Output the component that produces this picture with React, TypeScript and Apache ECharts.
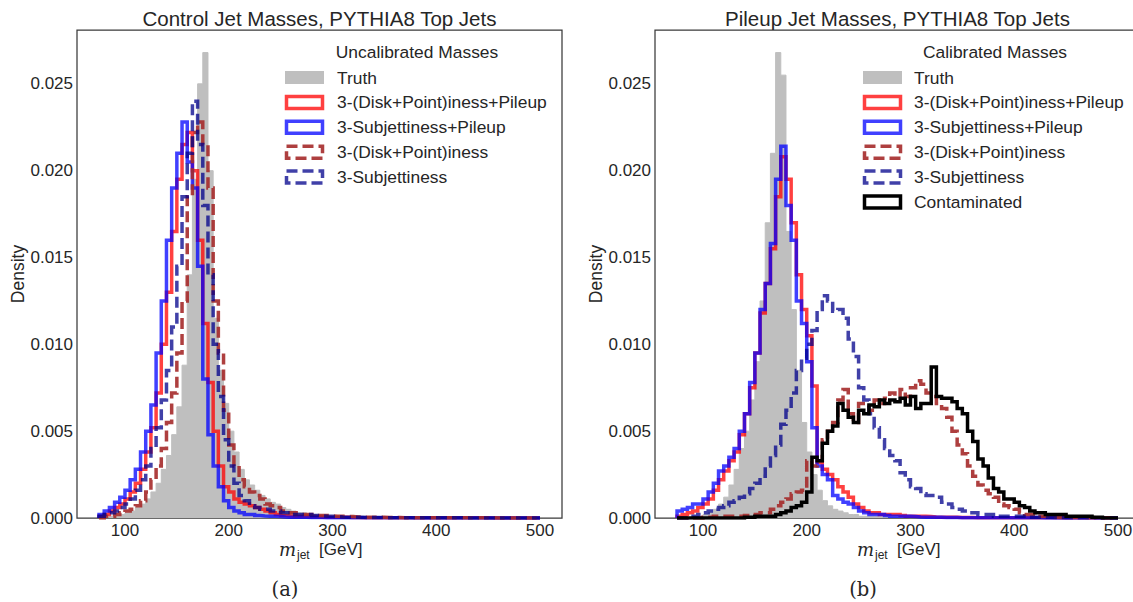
import React, { useEffect, useRef } from "react";
import * as echarts from "echarts";

// Histogram bins: 5 GeV wide, starting at 75 GeV (85 bins up to 500 GeV)
const BIN_START = 75;
const BIN_WIDTH = 5;

const X_TICKS = [100, 200, 300, 400, 500];
const Y_TICKS = [0, 0.005, 0.01, 0.015, 0.02, 0.025];

// ---------- Left panel: uncalibrated masses ----------
const LEFT_TRUTH = [
  0, 0.00005, 0.0001, 0.0001, 0.0002, 0.0003, 0.0004, 0.0006, 0.0008, 0.0011,
  0.0015, 0.002, 0.0028, 0.0036, 0.0048, 0.0064, 0.0088, 0.014, 0.0195, 0.025,
  0.0268, 0.02, 0.0115, 0.0085, 0.0066, 0.005, 0.0038, 0.0028, 0.0022, 0.0019,
  0.0016, 0.0013, 0.0011, 0.0009, 0.0008, 0.0006, 0.0005, 0.0004, 0.0003, 0.0003,
  0.0002, 0.0002, 0.00015, 0.00015, 0.0001, 0.0001, 0.0001, 0.0001, 0.00008, 0.00006,
  0.00005, 0.00005, 0.00004, 0.00004, 0.00003, 0.00003, 0.00003, 0.00002, 0.00002, 0.00002,
  0.00002, 0.00001, 0.00001, 0.00001, 0.00001, 0.00001, 0, 0, 0, 0,
  0, 0, 0, 0, 0, 0, 0, 0, 0, 0,
  0, 0, 0, 0, 0,
];
const LEFT_DISK_PILEUP = [
  0.0001, 0.0002, 0.0004, 0.0006, 0.0008, 0.0011, 0.0015, 0.002, 0.0028, 0.0038,
  0.0052, 0.0072, 0.01, 0.013, 0.0165, 0.0195, 0.0215, 0.0222, 0.02, 0.016,
  0.0112, 0.0078, 0.005, 0.003, 0.0018, 0.0015, 0.0011, 0.0009, 0.0008, 0.0007,
  0.0006, 0.0005, 0.0004, 0.0003, 0.0002, 0.00015, 0.00012, 0.0001, 0.0001, 0.0001,
  0.00008, 0.00008, 0.00006, 0.00006, 0.00005, 0.00005, 0.00004, 0.00004, 0.00003, 0.00003,
  0.00002, 0.00002, 0.00002, 0.00002, 0.00002, 0.00002, 0.00002, 0.00002, 0.00002, 0.00002,
  0.00002, 0.00002, 0.00001, 0.00001, 0.00001, 0.00001, 0.00001, 0.00001, 0.00001, 0.00001,
  0.00001, 0.00001, 0.00001, 0.00001, 0.00001, 0, 0, 0, 0, 0,
  0, 0, 0, 0, 0,
];
const LEFT_SUBJ_PILEUP = [
  0.0002, 0.0004, 0.0006, 0.0009, 0.0012, 0.0016, 0.0022, 0.0028, 0.0038, 0.005,
  0.0065, 0.0095, 0.0125, 0.016, 0.019, 0.021, 0.0228, 0.0205, 0.019, 0.0145,
  0.008, 0.0048, 0.003, 0.0018, 0.001, 0.0006, 0.0004, 0.0003, 0.0002, 0.0002,
  0.00015, 0.00012, 0.0001, 0.0001, 0.00008, 0.00006, 0.00005, 0.00005, 0.00004, 0.00004,
  0.00003, 0.00003, 0.00003, 0.00002, 0.00002, 0.00002, 0.00002, 0.00002, 0.00002, 0.00002,
  0.00001, 0.00001, 0.00001, 0.00001, 0.00001, 0.00001, 0.00001, 0.00001, 0.00001, 0.00001,
  0, 0, 0, 0, 0, 0, 0, 0, 0, 0,
  0, 0, 0, 0, 0, 0, 0, 0, 0, 0,
  0, 0, 0, 0, 0,
];
const LEFT_DISK = [
  0, 0.0001, 0.0001, 0.0002, 0.0003, 0.0004, 0.0005, 0.0007, 0.001, 0.0015,
  0.0022, 0.003, 0.004, 0.0055, 0.0072, 0.0095, 0.0125, 0.0185, 0.0222, 0.0228,
  0.0215, 0.019, 0.0125, 0.0095, 0.0062, 0.0042, 0.003, 0.0022, 0.0018, 0.0015,
  0.0013, 0.0011, 0.0008, 0.0007, 0.0006, 0.0004, 0.0003, 0.0003, 0.0002, 0.0002,
  0.0002, 0.0002, 0.00015, 0.00015, 0.00012, 0.0001, 0.0001, 0.0001, 0.00008, 0.00006,
  0.00005, 0.00005, 0.00004, 0.00004, 0.00004, 0.00003, 0.00003, 0.00003, 0.00002, 0.00002,
  0.00002, 0.00002, 0.00002, 0.00002, 0.00001, 0.00001, 0.00001, 0.00001, 0.00001, 0.00001,
  0.00001, 0.00001, 0.00001, 0.00001, 0.00001, 0.00001, 0, 0, 0, 0,
  0, 0, 0, 0, 0,
];
const LEFT_SUBJ = [
  0.0001, 0.0002, 0.0003, 0.0004, 0.0006, 0.0008, 0.0011, 0.0016, 0.0022, 0.003,
  0.004, 0.0052, 0.0068, 0.0085, 0.011, 0.0145, 0.0185, 0.021, 0.024, 0.0215,
  0.018, 0.014, 0.01, 0.007, 0.0045, 0.003, 0.002, 0.0013, 0.001, 0.0007,
  0.0006, 0.0005, 0.0005, 0.0004, 0.0004, 0.0003, 0.0003, 0.0002, 0.0002, 0.0002,
  0.0002, 0.00015, 0.00012, 0.0001, 0.0001, 0.00008, 0.00006, 0.00005, 0.00005, 0.00004,
  0.00004, 0.00003, 0.00003, 0.00003, 0.00002, 0.00002, 0.00002, 0.00002, 0.00002, 0.00002,
  0.00001, 0.00001, 0.00001, 0.00001, 0.00001, 0.00001, 0.00001, 0.00001, 0.00001, 0.00001,
  0, 0, 0, 0, 0, 0, 0, 0, 0, 0,
  0, 0, 0, 0, 0,
];

// ---------- Right panel: calibrated masses ----------
const RIGHT_TRUTH = [
  0, 0, 0.00005, 0.0001, 0.0001, 0.0002, 0.0003, 0.0005, 0.0008, 0.0012,
  0.0019, 0.0028, 0.004, 0.005, 0.0068, 0.009, 0.0125, 0.017, 0.021, 0.0268,
  0.0255, 0.0165, 0.012, 0.0085, 0.0055, 0.0038, 0.0025, 0.0016, 0.001, 0.0007,
  0.0005, 0.0004, 0.0003, 0.0002, 0.0002, 0.0001, 0.0001, 0.0001, 0.00008, 0.00006,
  0.00005, 0.00004, 0.00003, 0.00003, 0.00002, 0.00002, 0.00002, 0.00001, 0.00001, 0.00001,
  0, 0, 0, 0, 0, 0, 0, 0, 0, 0,
  0, 0, 0, 0, 0, 0, 0, 0, 0, 0,
  0, 0, 0, 0, 0, 0, 0, 0, 0, 0,
  0, 0, 0, 0, 0,
];
const RIGHT_DISK_PILEUP = [
  0.0001, 0.0002, 0.0003, 0.0004, 0.0006, 0.0008, 0.0011, 0.0016, 0.0022, 0.0027,
  0.0033, 0.0038, 0.0048, 0.006, 0.0075, 0.0095, 0.0118, 0.0135, 0.0155, 0.0185,
  0.0208, 0.0195, 0.017, 0.014, 0.012, 0.0105, 0.0076, 0.0032, 0.0028, 0.0025,
  0.0022, 0.0018, 0.0015, 0.0012, 0.0008, 0.0006, 0.0004, 0.0003, 0.0003, 0.0002,
  0.0002, 0.0002, 0.0002, 0.00015, 0.0001, 0.0001, 0.0001, 0.0001, 0.00008, 0.00006,
  0.00005, 0.00005, 0.00004, 0.00004, 0.00003, 0.00003, 0.00003, 0.00002, 0.00002, 0.00002,
  0.00002, 0.00002, 0.00001, 0.00001, 0.00001, 0.00001, 0.00001, 0.00001, 0.00001, 0.00001,
  0.00001, 0.00001, 0.00001, 0, 0, 0, 0, 0, 0, 0,
  0, 0, 0, 0, 0,
];
const RIGHT_SUBJ_PILEUP = [
  0.0004, 0.0005, 0.0006, 0.0008, 0.0008, 0.0011, 0.0015, 0.002, 0.0027, 0.003,
  0.0035, 0.004, 0.005, 0.006, 0.0078, 0.0095, 0.012, 0.0135, 0.0158, 0.0195,
  0.0214, 0.018, 0.016, 0.0125, 0.0112, 0.009, 0.0052, 0.003, 0.0025, 0.0022,
  0.0013, 0.0011, 0.0009, 0.0008, 0.0006, 0.0004, 0.0003, 0.0002, 0.0002, 0.0002,
  0.00015, 0.0001, 0.0001, 0.0001, 0.0001, 0.00008, 0.00006, 0.00005, 0.00005, 0.00004,
  0.00004, 0.00003, 0.00003, 0.00003, 0.00002, 0.00002, 0.00002, 0.00002, 0.00002, 0.00002,
  0.00001, 0.00001, 0.00001, 0.00001, 0.00001, 0.00001, 0.00001, 0.00001, 0.00001, 0.00001,
  0, 0, 0, 0, 0, 0, 0, 0, 0, 0,
  0, 0, 0, 0, 0,
];
const RIGHT_DISK = [
  0, 0, 0, 0, 0, 0.00005, 0.00005, 0.0001, 0.0001, 0.0001,
  0.0001, 0.0001, 0.0001, 0.00015, 0.0002, 0.0002, 0.0003, 0.0003, 0.0005, 0.0007,
  0.0009, 0.0011, 0.0014, 0.0015, 0.0016, 0.0033, 0.003, 0.0033, 0.0045, 0.005,
  0.0055, 0.0068, 0.0074, 0.006, 0.0055, 0.0066, 0.0066, 0.0062, 0.0068, 0.0066,
  0.0069, 0.0072, 0.007, 0.0074, 0.007, 0.0075, 0.0079, 0.0077, 0.0072, 0.007,
  0.0066, 0.0063, 0.0058, 0.005, 0.0042, 0.0037, 0.003, 0.0024, 0.0019, 0.0016,
  0.0014, 0.0012, 0.0008, 0.0007, 0.0006, 0.0005, 0.0003, 0.0002, 0.0002, 0.0001,
  0.0001, 0.0001, 0.0001, 0.00005, 0.00005, 0.00005, 0.00005, 0.00003, 0.00003, 0.00003,
  0.00002, 0.00002, 0.00002, 0.00001, 0.00001,
];
const RIGHT_SUBJ = [
  0, 0, 0.0001, 0.0001, 0.0002, 0.0003, 0.0004, 0.0005, 0.0006, 0.0007,
  0.0009, 0.001, 0.0012, 0.0014, 0.0017, 0.002, 0.0024, 0.003, 0.0036, 0.0042,
  0.0054, 0.0062, 0.0072, 0.0085, 0.0092, 0.01, 0.0108, 0.012, 0.0128, 0.0125,
  0.0119, 0.012, 0.0115, 0.0103, 0.0093, 0.0075, 0.0068, 0.006, 0.0052, 0.0045,
  0.004, 0.0036, 0.0033, 0.0026, 0.0022, 0.0018, 0.0017, 0.0014, 0.0013, 0.0013,
  0.0012, 0.0009, 0.0008, 0.0006, 0.0005, 0.0004, 0.0003, 0.0003, 0.0002, 0.0002,
  0.0002, 0.0001, 0.0001, 0.0001, 0.0001, 0.0001, 0.0001, 0.0001, 0.00005, 0.00005,
  0.00004, 0.00004, 0.00003, 0.00003, 0.00002, 0.00002, 0.00002, 0.00001, 0.00001, 0.00001,
  0.00001, 0.00001, 0, 0, 0,
];
const RIGHT_CONTAMINATED = [
  0, 0, 0, 0, 0, 0, 0, 0, 0, 0,
  0, 0, 0, 0.00005, 0.00005, 0.0001, 0.0001, 0.0001, 0.0001, 0.0002,
  0.0003, 0.0004, 0.0006, 0.0007, 0.0009, 0.0015, 0.0035, 0.0033, 0.0043, 0.005,
  0.0053, 0.0066, 0.0062, 0.0058, 0.0055, 0.0062, 0.006, 0.0065, 0.0064, 0.0068,
  0.0066, 0.0068, 0.0067, 0.0069, 0.0065, 0.007, 0.0063, 0.0066, 0.0066, 0.0087,
  0.007, 0.0069, 0.0069, 0.0067, 0.0063, 0.006, 0.005, 0.0044, 0.0034, 0.003,
  0.0023, 0.0017, 0.0015, 0.0011, 0.0011, 0.0009, 0.0007, 0.0006, 0.0004, 0.0003,
  0.0003, 0.0002, 0.0002, 0.0002, 0.0002, 0.0001, 0.0001, 0.0001, 0.0001, 0.0001,
  0.00005, 0.00005, 0, 0, 0,
];

const LEFT_LABELS = [
  "Truth",
  "3-(Disk+Point)iness+Pileup",
  "3-Subjettiness+Pileup",
  "3-(Disk+Point)iness",
  "3-Subjettiness",
];
const RIGHT_LABELS = [...LEFT_LABELS, "Contaminated"];

// ---------- styles ----------
const FONT = '"Liberation Sans", Arial, sans-serif';
const TXT = "#262626";
const TRUTH_COLOR = "#bfbfbf";
const STYLES = [
  { color: TRUTH_COLOR, fill: true, dash: null as number[] | null },
  { color: "rgba(255,0,0,0.75)", fill: false, dash: null },
  { color: "rgba(0,0,255,0.75)", fill: false, dash: null },
  { color: "rgba(165,42,42,0.9)", fill: false, dash: [11, 5] },
  { color: "rgba(0,0,139,0.75)", fill: false, dash: [11, 5] },
  { color: "#000000", fill: false, dash: null },
];
const LINE_W = 3.5;

const X_MIN = 53.75;
const X_MAX = 521.25;
const Y_MAX = 0.0281;

const GRID_TOP = 30;
const GRID_H = 488;
const GRID_W = 485;
const LEFT_X = 77;
const RIGHT_X = 655;

function stepData(vals: number[]) {
  const pts: number[][] = [[BIN_START, 0]];
  vals.forEach((v, i) => pts.push([BIN_START + i * BIN_WIDTH, v]));
  pts.push([BIN_START + vals.length * BIN_WIDTH, 0]);
  return pts;
}

function histSeries(vals: number[], styleIdx: number, axis: number) {
  const st = STYLES[styleIdx];
  if (st.fill) {
    return {
      type: "line",
      xAxisIndex: axis,
      yAxisIndex: axis,
      data: stepData(vals),
      step: "end",
      symbol: "none",
      silent: true,
      itemStyle: { color: st.color },
      lineStyle: { width: 1, color: st.color },
      areaStyle: { color: st.color, opacity: 1 },
    };
  }
  return {
    type: "line",
    xAxisIndex: axis,
    yAxisIndex: axis,
    data: stepData(vals),
    step: "end",
    symbol: "none",
    silent: true,
    itemStyle: { color: st.color },
    lineStyle: {
      width: LINE_W,
      color: st.color,
      type: st.dash ? st.dash : "solid",
      join: "miter",
    },
  };
}

function textEl(
  text: string,
  x: number,
  y: number,
  size: number,
  align = "left",
  extra: any = {},
  family = FONT,
  fontStyle = "normal"
) {
  return {
    type: "text",
    x,
    y,
    silent: true,
    ...extra,
    style: {
      text,
      fill: TXT,
      fontSize: size,
      fontFamily: family,
      fontStyle,
      textAlign: align,
      textVerticalAlign: "middle",
      align,
      verticalAlign: "middle",
    },
  };
}

function legendEls(
  iconX: number,
  textX: number,
  titleCx: number,
  title: string,
  labels: string[]
) {
  const els: any[] = [textEl(title, titleCx, 52, 17.4, "center")];
  labels.forEach((lab, i) => {
    const cy = 77.5 + i * 24.9;
    const st = STYLES[i];
    if (st.fill) {
      els.push({
        type: "rect",
        silent: true,
        shape: { x: iconX - 1.5, y: cy - 6.5, width: 39, height: 13 },
        style: { fill: st.color },
      });
    } else {
      els.push({
        type: "rect",
        silent: true,
        shape: { x: iconX, y: cy - 6, width: 36, height: 12 },
        style: {
          fill: "none",
          stroke: st.color,
          lineWidth: LINE_W,
          lineDash: st.dash || null,
        },
      });
    }
    els.push(textEl(lab, textX, cy, 17.4, "left"));
  });
  return els;
}

function xLabelEls(offset: number) {
  return [
    textEl("m", 279 + offset, 549, 18, "left", {}, '"DejaVu Serif", serif', "italic"),
    textEl("jet", 297 + offset, 555, 12, "left"),
    textEl("[GeV]", 319 + offset, 549, 17, "left"),
  ];
}

export default function App() {
  const ref = useRef<HTMLDivElement>(null);
  useEffect(() => {
    if (!ref.current) return;
    const chart = echarts.init(ref.current, null, { renderer: "svg" });

    const gridCommon = {
      top: GRID_TOP,
      width: GRID_W,
      height: GRID_H,
      show: true,
      borderColor: "#3a3a3a",
      borderWidth: 1.25,
      backgroundColor: "transparent",
      containLabel: false,
      outerBoundsMode: "none",
    };

    const xAxis = [0, 1].map((i) => ({
      type: "value",
      gridIndex: i,
      min: X_MIN,
      max: X_MAX,
      axisLine: { show: false },
      axisTick: { show: false },
      splitLine: { show: false },
      axisLabel: {
        customValues: X_TICKS,
        fontSize: 17,
        color: TXT,
        fontFamily: FONT,
        margin: 4,
      },
    }));
    const yAxis = [0, 1].map((i) => ({
      type: "value",
      gridIndex: i,
      min: 0,
      max: Y_MAX,
      axisLine: { show: false },
      axisTick: { show: false },
      splitLine: { show: false },
      axisLabel: {
        customValues: Y_TICKS,
        fontSize: 17,
        color: TXT,
        fontFamily: FONT,
        margin: 4,
        formatter: (v: number) => v.toFixed(3),
      },
    }));

    const series = [
      histSeries(LEFT_TRUTH, 0, 0),
      histSeries(LEFT_DISK_PILEUP, 1, 0),
      histSeries(LEFT_SUBJ_PILEUP, 2, 0),
      histSeries(LEFT_DISK, 3, 0),
      histSeries(LEFT_SUBJ, 4, 0),
      histSeries(RIGHT_TRUTH, 0, 1),
      histSeries(RIGHT_DISK_PILEUP, 1, 1),
      histSeries(RIGHT_SUBJ_PILEUP, 2, 1),
      histSeries(RIGHT_DISK, 3, 1),
      histSeries(RIGHT_SUBJ, 4, 1),
      histSeries(RIGHT_CONTAMINATED, 5, 1),
    ];

    const serif = '"DejaVu Serif", "Liberation Serif", serif';
    const graphicEls: any[] = [
      textEl("Control Jet Masses, PYTHIA8 Top Jets", LEFT_X + GRID_W / 2, 18, 20.5, "center"),
      textEl("Pileup Jet Masses, PYTHIA8 Top Jets", RIGHT_X + GRID_W / 2, 18, 20.5, "center"),
      textEl("Density", 18, GRID_TOP + GRID_H / 2, 17.5, "center", { rotation: Math.PI / 2 }),
      textEl("Density", 596, GRID_TOP + GRID_H / 2, 17.5, "center", { rotation: Math.PI / 2 }),
      ...xLabelEls(0),
      ...xLabelEls(RIGHT_X - LEFT_X),
      ...legendEls(286.5, 337, 417, "Uncalibrated Masses", LEFT_LABELS),
      ...legendEls(864.5, 914, 995, "Calibrated Masses", RIGHT_LABELS),
      textEl("(a)", 285, 589, 19.5, "center", {}, serif),
      textEl("(b)", 863, 589, 19.5, "center", {}, serif),
    ];

    chart.setOption({
      animation: false,
      backgroundColor: "#ffffff",
      grid: [
        { ...gridCommon, left: LEFT_X },
        { ...gridCommon, left: RIGHT_X },
      ],
      xAxis,
      yAxis,
      series,
      graphic: { elements: graphicEls },
    });

    return () => chart.dispose();
  }, []);

  return (
    <div
      ref={ref}
      style={{ position: "fixed", left: 0, top: 0, width: 1133, height: 602 }}
    />
  );
}
